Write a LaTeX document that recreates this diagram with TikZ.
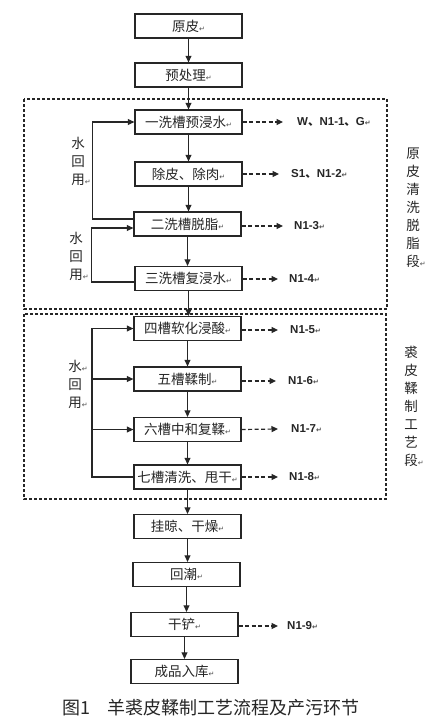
\documentclass[tikz,border=0pt]{standalone}
\usepackage{fontspec}
\setmainfont{Noto Sans CJK SC}
\newfontfamily\latf{Liberation Sans}
\newfontfamily\djv{DejaVu Sans}
\usetikzlibrary{arrows.meta}
\definecolor{ink}{gray}{0.15}
\newcommand{\retm}{{\djv\fontsize{7}{7}\selectfont\textcolor{black!70}{↵}}}
\newcommand{\rretm}{\rlap{\retm}}
\begin{document}
\begin{tikzpicture}[x=1pt,y=-1pt,
  box/.style={draw=ink, line width=1.3pt, minimum width=107pt, minimum height=24pt, inner sep=0pt, font=\fontsize{13.5}{13.5}\selectfont, text=ink},
  flow/.style={draw=ink, -{Triangle[length=6.5pt,width=6pt]}, line width=1.2pt},
  emit/.style={flow, dash pattern=on 4pt off 2.5pt},
  zone/.style={draw=ink, line width=1.2pt, dash pattern=on 3pt off 2pt},
  lab/.style={anchor=west, inner sep=0pt, text=ink, font=\latf\bfseries\fontsize{11.5}{11.5}\selectfont},
  vlab/.style={align=center, inner sep=0pt, text=ink, font=\fontsize{13.5}{18}\selectfont},
  captext/.style={anchor=west, inner sep=0pt, text=ink, font=\fontsize{18}{18}\selectfont}]
\useasboundingbox (0,0) rectangle (437,728);
\fill[white] (0,0) rectangle (437,728);

% zones
\draw[zone] (24,99) rectangle (387,309);
\draw[zone] (24,314) rectangle (386,499);

% boxes
\node[box] (b0) at (188.5,26) {原皮\retm};
\node[box] (b0a) at (188.5,75) {预处理\retm};
\node[box] (b1) at (188.5,122) {一洗槽预浸水\retm};
\node[box] (b2) at (188.5,174) {除皮、除肉\retm};
\node[box] (b3) at (187.5,224) {二洗槽脱脂\retm};
\node[box] (b4) at (188.5,278.5) {三洗槽复浸水\retm};
\node[box] (b5) at (187.5,328.5) {四槽软化浸酸\retm};
\node[box] (b6) at (187.5,379) {五槽鞣制\retm};
\node[box] (b7) at (187.5,429.5) {六槽中和复鞣\retm};
\node[box] (b8) at (187.5,477) {七槽清洗、甩干\retm};
\node[box] (b9) at (187.5,526.5) {挂晾、干燥\retm};
\node[box] (b10) at (186.5,574.5) {回潮\retm};
\node[box] (b11) at (184.5,624.5) {干铲\retm};
\node[box] (b12) at (184.5,671.5) {成品入库\retm};

% main flow
\draw[flow] (b0.south) -- (b0.south |- b0a.north);
\draw[flow] (b0a.south) -- (b0a.south |- b1.north);
\draw[flow] (b1.south) -- (b1.south |- b2.north);
\draw[flow] (b2.south) -- (b2.south |- b3.north);
\draw[flow] (b3.south) -- (b3.south |- b4.north);
\draw[flow] (b4.south) -- (b4.south |- b5.north);
\draw[flow] (b5.south) -- (b5.south |- b6.north);
\draw[flow] (b6.south) -- (b6.south |- b7.north);
\draw[flow] (b7.south) -- (b7.south |- b8.north);
\draw[flow] (b8.south) -- (b8.south |- b9.north);
\draw[flow] (b9.south) -- (b9.south |- b10.north);
\draw[flow] (b10.south) -- (b10.south |- b11.north);
\draw[flow] (b11.south) -- (b11.south |- b12.north);

% emission labels
\node[lab] (l1) at (297,122) {W{\normalfont\bfseries 、}N1-1{\normalfont\bfseries 、}G\retm};
\node[lab] (l2) at (291,174) {S1{\normalfont\bfseries 、}N1-2\retm};
\node[lab] (l3) at (294,226) {N1-3\retm};
\node[lab] (l4) at (289,279) {N1-4\retm};
\node[lab] (l5) at (290,330) {N1-5\retm};
\node[lab] (l6) at (288,381) {N1-6\retm};
\node[lab] (l7) at (291,429) {N1-7\retm};
\node[lab] (l8) at (289,477) {N1-8\retm};
\node[lab] (l9) at (287,626) {N1-9\retm};

\coordinate (e1) at (283,122);
\coordinate (e2) at (279,174);
\coordinate (e3) at (283,226);
\coordinate (e4) at (278,279);
\coordinate (e5) at (278,330);
\coordinate (e6) at (276,381);
\coordinate (e7) at (278,429);
\coordinate (e8) at (278,477);
\coordinate (e9) at (278,626);

\draw[emit] (b1.east) -- (e1);
\draw[emit] (b2.east) -- (e2);
\draw[emit] (b3.east |- e3) -- (e3);
\draw[emit] (b4.east |- e4) -- (e4);
\draw[emit] (b5.east |- e5) -- (e5);
\draw[emit] (b6.east |- e6) -- (e6);
\draw[emit] (b7.east) -- (e7);
\draw[emit] (b8.east) -- (e8);
\draw[emit] (b11.east |- e9) -- (e9);

% water reuse loops
\draw[flow] ([yshift=5pt]b3.west) -- ++(-41,0) |- (b1.west);
\draw[flow] ([yshift=-3.5pt]b4.west) -- ++(-43,0) |- ([yshift=-4pt]b3.west);
\coordinate (rl) at (92,0);
\draw[flow] (b8.west) -- (rl |- b8.west) |- (b5.west);
\draw[flow] (rl |- b6.west) -- (b6.west);
\draw[flow] (rl |- b7.west) -- (b7.west);

% vertical labels
\node[vlab] (w1) at (78,161) {水\\回\\用\rretm};
\node[vlab] (w2) at (76,256) {水\\回\\用\rretm};
\node[vlab] (w3) at (75,384) {水\rretm\\回\\用\rretm};
\node[vlab] (s1) at (413,207.5) {原\\皮\\清\\洗\\脱\\脂\\段\rretm};
\node[vlab] (s2) at (411,406.5) {裘\\皮\\鞣\\制\\工\\艺\\段\rretm};

% caption
\node[captext] (capn) at (62,708) {图1\hspace{17pt}羊裘皮鞣制工艺流程及产污环节};
\end{tikzpicture}
\end{document}
